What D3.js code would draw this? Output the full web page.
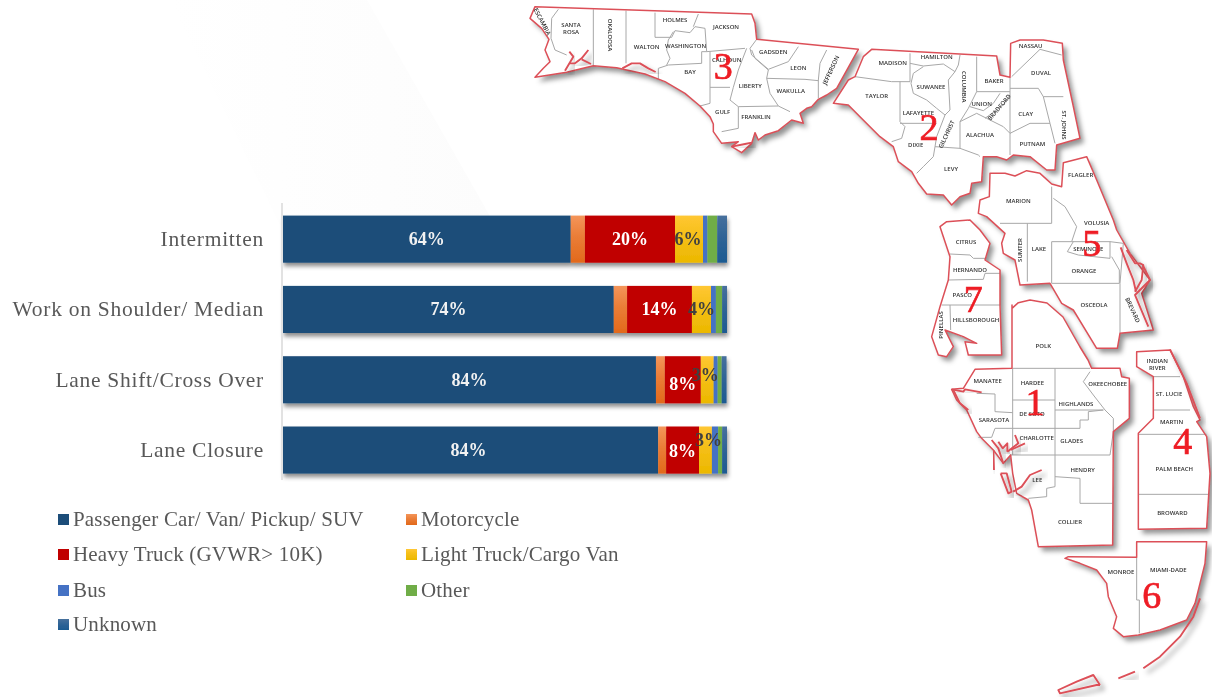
<!DOCTYPE html>
<html><head><meta charset="utf-8">
<style>html,body{margin:0;padding:0;background:#fff;overflow:hidden}svg{display:block}</style>
<script src="https://cdn.jsdelivr.net/npm/d3@7"></script></head>
<body><svg id="c" width="1212" height="698"></svg>
<script>
// ---------- chart data ----------
const categories = ["Intermitten","Work on Shoulder/ Median","Lane Shift/Cross Over","Lane Closure"];
const seriesNames = ["Passenger Car/ Van/ Pickup/ SUV","Motorcycle","Heavy Truck (GVWR> 10K)","Light Truck/Cargo Van","Bus","Other","Unknown"];
const passenger = [64.8,74.5,84.0,84.5];
const motorcycle = [3.2,3.0,2.0,1.8];
const heavyTruck = [20.3,14.6,8.1,7.4];
const lightTruck = [6.3,4.3,2.9,2.9];
const bus = [1.0,1.1,0.9,1.4];
const other = [2.2,1.4,0.9,0.9];
const unknown = [2.2,1.1,1.1,1.1];
const passengerLabels = ["64%","74%","84%","84%"];
const heavyLabels = ["20%","14%","8%","8%"];
const lightLabels = ["6%","4%","3%","3%"];
const seriesColors = ["#1f4e79","#ed7d31","#c00000","#ffc000","#4472c4","#70ad47","#255e91"];

// ---------- map data (outlines, in 3x crop units) ----------
const zoneA=[525,0], zoneB=[830,40], zoneC=[920,340];
const district3=[[30,20],[680,42],[690,70],[695,118],[1000,148],[985,175],[960,220],[935,265],[905,285],[880,298],[860,320],[845,325],[825,340],[835,370],[800,360],[760,392],[720,405],[700,420],[690,398],[680,430],[650,458],[620,440],[640,425],[590,430],[565,395],[565,372],[555,350],[525,318],[480,280],[420,245],[360,222],[295,208],[275,203],[205,197],[125,217],[30,232],[55,205],[75,185],[60,150],[72,118],[50,85],[15,55]];
const district3Water=[[[120,212],[145,170],[133,155]],[[135,190],[150,190],[170,175],[190,150]],[[170,178],[198,192]],[[292,205],[320,190],[345,190],[370,205],[392,216]],[[620,440],[660,432],[680,428]]];
const district3Lines=[[[100,28],[80,55],[78,115],[90,150],[125,165]],[[205,28],[205,197]],[[303,32],[303,190]],[[390,38],[390,112],[440,112],[450,92],[495,98],[510,80],[540,85],[545,155],[530,155],[530,190],[430,195],[400,205],[400,238]],[[445,95],[430,120],[425,150],[435,175],[425,195]],[[520,42],[505,80]],[[545,155],[660,145]],[[555,155],[555,310],[525,318]],[[555,262],[615,262]],[[665,145],[640,210],[625,262],[615,300],[640,320],[640,385],[590,395]],[[640,320],[760,318],[795,335]],[[680,150],[690,175],[730,210],[725,235],[735,280],[760,318]],[[695,118],[675,145],[680,165],[730,208],[790,185],[820,140]],[[725,235],[840,238],[880,242]],[[905,150],[885,190],[880,240],[880,295]]];
const district2=[[125,28],[500,48],[510,105],[540,112],[542,10],[570,0],[640,0],[697,10],[700,60],[730,200],[750,295],[680,315],[675,390],[650,390],[600,350],[550,345],[530,360],[500,350],[460,350],[455,425],[425,430],[420,460],[390,470],[365,495],[340,465],[290,462],[265,430],[245,395],[205,365],[190,320],[150,290],[90,230],[55,195],[10,190],[55,120],[75,110],[100,50]];
const district2Lines=[[[240,40],[240,125],[185,125],[75,110]],[[240,70],[280,78],[340,72],[375,95],[385,75],[390,45]],[[280,80],[250,100],[243,130],[250,160],[290,180],[320,205],[345,225]],[[345,225],[360,210],[355,120],[375,95]],[[210,125],[210,245],[225,260],[215,295],[185,305]],[[210,250],[320,250]],[[315,320],[310,350],[280,380],[260,400]],[[345,225],[320,290],[315,320],[390,325]],[[390,245],[390,325],[445,345],[450,350]],[[440,50],[440,155],[415,205],[390,245]],[[440,155],[540,155]],[[420,200],[460,212],[490,190],[510,160]],[[465,235],[520,195],[540,165]],[[390,245],[440,220],[470,235],[520,260],[540,280]],[[540,112],[540,345]],[[540,145],[625,145],[640,170],[660,250],[675,310]],[[540,280],[600,250],[660,250]],[[545,110],[630,28],[695,45]],[[640,170],[700,170]]];
const district5=[[480,400],[525,400],[555,408],[590,392],[630,400],[665,432],[695,440],[700,368],[770,350],[800,420],[850,540],[860,570],[900,640],[960,720],[935,760],[970,870],[870,880],[862,925],[800,925],[730,810],[695,790],[660,730],[570,735],[555,660],[520,640],[515,610],[525,580],[470,530],[445,520],[450,480],[478,470]];
const district5Water=[[[872,622],[890,670],[910,720],[918,755]],[[890,630],[915,670],[930,670],[940,675],[935,720],[915,755]],[[938,675],[960,720],[915,765],[955,860]]];
const district5Lines=[[[665,440],[665,550],[510,550]],[[592,550],[592,725]],[[665,605],[665,730]],[[670,475],[705,500],[740,560],[725,605],[665,605]],[[730,605],[712,635],[745,645],[840,655],[840,605],[725,605]],[[665,730],[868,730],[868,690],[845,650]],[[840,605],[880,610],[870,730],[870,880]]];
const district7=[[350,545],[420,540],[450,570],[480,610],[465,660],[510,690],[510,795],[515,945],[415,945],[405,905],[440,910],[400,890],[345,870],[370,920],[350,950],[325,945],[305,890],[330,800],[355,720],[360,650],[340,590],[330,560]];
const district7Lines=[[[360,642],[420,645],[430,655],[465,655]],[[355,720],[460,718],[465,700],[510,700]],[[335,795],[510,795]],[[360,795],[362,870]]];
const district1=[[276,-105],[276,-95],[295,-112],[330,-120],[381,-111],[429,-69],[480,21],[504,60],[515,85],[600,85],[605,110],[628,115],[628,235],[580,275],[578,615],[355,620],[335,510],[325,480],[290,460],[278,400],[272,345],[250,370],[220,330],[185,295],[170,275],[140,210],[110,180],[95,148],[130,145],[165,88],[276,85]];
const district1Water=[[[95,148],[130,155],[135,148],[185,157]],[[100,150],[120,190],[145,210]],[[215,300],[235,325],[250,370]],[[235,305],[248,325],[262,310],[262,335]],[[285,285],[295,310],[262,335]],[[315,310],[272,330]],[[220,330],[222,390]],[[365,390],[330,405],[305,440],[280,455]],[[242,400],[260,400],[275,455],[265,460],[242,400]]];
const district1Lines=[[[278,85],[278,345]],[[405,85],[405,440]],[[278,85],[510,85]],[[278,180],[405,180]],[[405,210],[550,210]],[[550,210],[505,215],[505,240],[480,240],[480,265],[405,265]],[[510,95],[490,125],[520,165],[555,210],[580,235],[580,275],[570,345]],[[170,160],[225,162],[225,215],[278,218]],[[225,265],[278,265],[405,265]],[[225,265],[215,292],[175,292]],[[270,345],[570,345]],[[405,410],[480,415],[480,490],[578,490]],[[405,440],[380,445],[380,470],[325,475]]];
const district4=[[650,35],[750,30],[790,110],[820,200],[840,240],[830,245],[860,290],[870,400],[860,565],[655,568],[655,280],[700,235],[700,110],[650,80]];
const district4Water=[[[750,28],[800,130],[840,235]]];
const district4Lines=[[[700,210],[810,210]],[[655,283],[860,283]],[[655,463],[865,463]],[[700,110],[780,110]]];
const district6=[[650,605],[860,605],[855,670],[840,730],[825,790],[800,840],[720,870],[655,885],[610,890],[580,865],[590,830],[565,770],[560,730],[530,690],[480,670],[435,655],[445,650],[650,652]];
const district6Lines=[[[650,652],[650,780],[658,780],[658,880]]];
const keys=[[[840,775],[820,830],[780,890],[720,950],[670,985]],[[645,995],[595,1015]],[[540,1035],[520,1005],[470,1025],[415,1050],[420,1060],[530,1035],[540,1035]]];
const labelsA=[["ESCAMBIA",52,65,62],["SANTA",138,75,0],["ROSA",138,97,0],["OKALOOSA",255,105,90],["WALTON",365,140,0],["HOLMES",450,60,0],["WASHINGTON",482,138,0],["JACKSON",603,80,0],["BAY",495,217,0],["CALHOUN",605,180,0],["GADSDEN",745,157,0],["LEON",820,205,0],["JEFFERSON",918,210,-65],["LIBERTY",676,257,0],["WAKULLA",797,273,0],["GULF",593,335,0],["FRANKLIN",693,352,0]];
const labelsB=[["MADISON",188,68,0],["HAMILTON",320,52,0],["SUWANEE",303,142,0],["COLUMBIA",403,140,90],["BAKER",492,122,0],["NASSAU",602,18,0],["DUVAL",633,100,0],["TAYLOR",140,168,0],["LAFAYETTE",265,220,0],["UNION",455,192,0],["BRADFORD",508,202,-50],["CLAY",587,222,0],["ST. JOHNS",703,255,90],["ALACHUA",450,285,0],["PUTNAM",607,313,0],["DIXIE",257,315,0],["GILCHRIST",350,283,-65],["LEVY",363,388,0],["FLAGLER",752,405,0],["MARION",565,484,0],["VOLUSIA",800,548,0],["SUMTER",570,630,-90],["LAKE",627,628,0],["SEMINOLE",775,627,0],["ORANGE",762,692,0],["OSCEOLA",792,795,0],["BREVARD",908,810,65],["CITRUS",408,606,0],["HERNANDO",420,690,0],["PASCO",397,764,0],["HILLSBOROUGH",438,840,0],["PINELLAS",333,855,-90],["POLK",640,918,0]];
const labelsC=[["MANATEE",203,122,0],["HARDEE",337,130,0],["OKEECHOBEE",563,132,0],["INDIAN",712,62,0],["RIVER",712,84,0],["ST. LUCIE",747,162,0],["HIGHLANDS",468,193,0],["SARASOTA",222,239,0],["DE SOTO",336,223,0],["MARTIN",755,246,0],["CHARLOTTE",350,294,0],["GLADES",455,302,0],["PALM BEACH",763,387,0],["HENDRY",488,390,0],["LEE",352,420,0],["BROWARD",757,520,0],["COLLIER",450,547,0],["MONROE",603,695,0],["MIAMI-DADE",745,690,0]];
const districtNumbers=[["3",zoneA,595,200],["2",zoneB,297,262],["5",zoneB,785,610],["7",zoneB,430,778],["1",zoneC,345,188],["4",zoneC,788,305],["6",zoneC,695,765]];

// ---------- setup ----------
const svg=d3.select("#c");
const defs=svg.append("defs");
const shadow=defs.append("filter").attr("id","mapShadow").attr("x","-15%").attr("y","-15%").attr("width","135%").attr("height","135%");
shadow.append("feDropShadow").attr("dx",4).attr("dy",4.5).attr("stdDeviation",2.4).attr("flood-color","#000").attr("flood-opacity",.42);
const barShadow=defs.append("filter").attr("id","barShadow").attr("x","-2%").attr("y","-10%").attr("width","104%").attr("height","130%");
barShadow.append("feDropShadow").attr("dx",1).attr("dy",3.5).attr("stdDeviation",2).attr("flood-color","#000").attr("flood-opacity",.45);
const soft=defs.append("filter").attr("id","soft").attr("x","-5%").attr("y","-5%").attr("width","110%").attr("height","110%");
soft.append("feGaussianBlur").attr("stdDeviation",.6);
const swoosh=defs.append("linearGradient").attr("id","swoosh").attr("x1",0).attr("x2",1).attr("y1",0).attr("y2",0);
swoosh.append("stop").attr("offset","0%").attr("stop-color","#ffffff");
swoosh.append("stop").attr("offset","100%").attr("stop-color","#fcfcfc");
function gradient(id,top,bottom){const g=defs.append("linearGradient").attr("id",id).attr("x1",0).attr("x2",0).attr("y1",0).attr("y2",1);
 g.append("stop").attr("offset","0%").attr("stop-color",top);g.append("stop").attr("offset","45%").attr("stop-color",d3.interpolateRgb(top,bottom)(.55));g.append("stop").attr("offset","100%").attr("stop-color",bottom);return `url(#${id})`;}
const fills=[seriesColors[0],gradient("gOrange","#f4955a","#e2691b"),seriesColors[2],gradient("gYellow","#ffc733","#ecb800"),seriesColors[4],seriesColors[5],gradient("gUnknown","#47709d","#1d5a91")];

// faint background swoosh
svg.append("path").attr("d",d3.line()([[170,0],[367,0],[495,225],[280,225]])+"Z").attr("fill","url(#swoosh)");

// ---------- stacked bars ----------
const x=d3.scaleLinear().domain([0,100]).range([283,727]);
const y=d3.scaleBand().domain(categories).range([204,485.2]).paddingInner(.33).paddingOuter(.165);
const rows=categories.map((c,i)=>({category:c,[seriesNames[0]]:passenger[i],[seriesNames[1]]:motorcycle[i],[seriesNames[2]]:heavyTruck[i],[seriesNames[3]]:lightTruck[i],[seriesNames[4]]:bus[i],[seriesNames[5]]:other[i],[seriesNames[6]]:unknown[i]}));
const stacked=d3.stack().keys(seriesNames)(rows);
const serif="'Liberation Serif','Times New Roman',serif";
const chart=svg.append("g").attr("filter","url(#soft)");
const barsG=chart.append("g").attr("filter","url(#barShadow)");
stacked.forEach((s,k)=>{barsG.append("g").selectAll("rect").data(s).join("rect")
 .attr("x",d=>x(d[0])).attr("width",d=>Math.min(x(d[1]),727)-x(d[0])).attr("y",d=>y(d.data.category)).attr("height",y.bandwidth()).attr("fill",fills[k]);});
const axis=chart.append("g").attr("transform","translate(282,0)").call(d3.axisLeft(y).tickSize(0).tickPadding(18));
axis.select(".domain").attr("stroke","#e2e2e2").attr("stroke-width",2).attr("d","M0,203V480");
axis.selectAll("text").attr("font-family",serif).attr("font-size",21.5).attr("letter-spacing",.72).attr("fill","#595959");
function barLabels(idx,texts,color,nudge){chart.append("g").selectAll("text").data(stacked[idx]).join("text")
 .attr("x",(d,i)=>(x(d[0])+Math.min(x(d[1]),727))/2+nudge[i][0]).attr("y",(d,i)=>y(d.data.category)+y.bandwidth()/2+nudge[i][1]).attr("dy",".35em")
 .attr("text-anchor","middle").attr("font-family",serif).attr("font-weight","bold").attr("font-size",18).attr("fill",color).text((d,i)=>texts[i]);}
barLabels(0,passengerLabels,"#f2f2f2",[[0,0],[0,-1],[0,0],[-2,0]]);
barLabels(2,heavyLabels,"#ffffff",[[0,0],[0,-1],[0,4],[0,1]]);
barLabels(3,lightLabels,"#404040",[[-1,0],[0,-1],[-2,-5],[3,-10]]);

// ---------- legend ----------
const legendX=[58,406], legendY=[519,554,590,624];
const legend=chart.append("g").selectAll("g").data(seriesNames).join("g")
 .attr("transform",(d,i)=>`translate(${legendX[i===6?0:i%2]},${legendY[Math.floor(i/2)]})`);
legend.append("rect").attr("y",-5).attr("width",11).attr("height",11).attr("fill",(d,i)=>fills[i]);
legend.append("text").attr("x",15).attr("dy",".35em").attr("font-family",serif).attr("font-size",21).attr("letter-spacing",.17).attr("fill","#595959").text(d=>d);

// ---------- map ----------
const map=svg.append("g").attr("filter","url(#soft)");
const RED="#dc5058", GREY="#a8a8a8";
function pathIn(zone,closed){const l=d3.line().x(d=>zone[0]+d[0]/3).y(d=>zone[1]+d[1]/3);return p=>l(p)+(closed?"Z":"");}
function district(zone,outline,lines,water){
 const g=map.append("g");
 g.append("path").attr("d",pathIn(zone,true)(outline)).attr("fill","#fff").attr("filter","url(#mapShadow)");
 g.selectAll("path.county").data(lines).join("path").attr("class","county").attr("d",pathIn(zone,false)).attr("fill","none").attr("stroke",GREY).attr("stroke-width",1);
 g.append("path").attr("d",pathIn(zone,true)(outline)).attr("fill","none").attr("stroke",RED).attr("stroke-width",1.5).attr("stroke-linejoin","round");
 g.selectAll("path.water").data(water||[]).join("path").attr("class","water").attr("d",pathIn(zone,false)).attr("fill","none").attr("stroke",RED).attr("stroke-width",1.9).attr("stroke-linejoin","round").attr("filter","url(#mapShadow)");
}
district(zoneA,district3,district3Lines,district3Water);
district(zoneB,district2,district2Lines);
district(zoneB,district5,district5Lines,district5Water);
district(zoneB,district7,district7Lines);
district(zoneC,district1,district1Lines,district1Water);
district(zoneC,district4,district4Lines,district4Water);
district(zoneC,district6,district6Lines);
district(zoneC,[[0,0]],[],keys);
function countyLabels(zone,list){map.append("g").selectAll("text").data(list).join("text")
 .attr("transform",d=>`translate(${zone[0]+d[1]/3},${zone[1]+d[2]/3}) rotate(${d[3]})`).attr("dy",".35em").attr("text-anchor","middle")
 .attr("font-family","'Open Sans',sans-serif").attr("font-weight",600).attr("font-size",6).attr("fill","#333").text(d=>d[0]);}
countyLabels(zoneA,labelsA);countyLabels(zoneB,labelsB);countyLabels(zoneC,labelsC);
map.append("g").selectAll("text").data(districtNumbers).join("text")
 .attr("x",d=>d[1][0]+d[2]/3).attr("y",d=>d[1][1]+d[3]/3).attr("dy",".33em").attr("text-anchor","middle")
 .attr("font-family",serif).attr("font-size",38).attr("fill","#ee1c25").attr("stroke","#ee1c25").attr("stroke-width",.7).text(d=>d[0]);
</script></body></html>
